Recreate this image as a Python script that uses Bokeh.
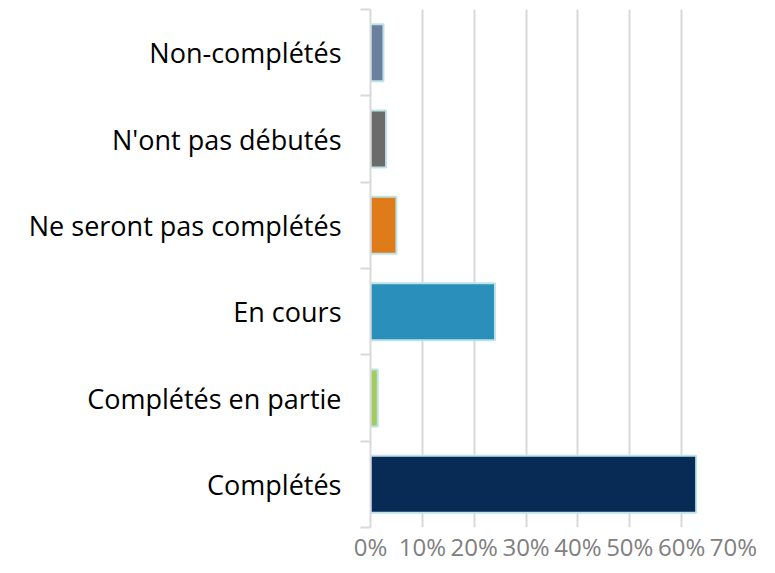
from bokeh.plotting import figure
from bokeh.models import FixedTicker, Range1d, CustomJSTickFormatter
from bokeh.embed import file_html
from bokeh.resources import INLINE

categories = ["Complétés", "Complétés en partie", "En cours",
              "Ne seront pas complétés", "N'ont pas débutés", "Non-complétés"]
values = [62.8, 1.4, 24.0, 5.0, 3.0, 2.5]
colors = ["#072B55", "#A3CC5A", "#2A8FBA", "#E07B1A", "#6B6B6B", "#6B7F9E"]
x_ticks = [0, 10, 20, 30, 40, 50, 60, 70]

pos = [i + 0.5 for i in range(len(categories))]
bounds = list(range(len(categories) + 1))

p = figure(width=759, height=565, output_backend="svg", toolbar_location=None,
           x_range=Range1d(0, 70), y_range=Range1d(0, len(categories)),
           min_border_left=370, min_border_right=26, min_border_top=9, min_border_bottom=0)
p.outline_line_color = None

p.hbar(y=pos, right=values, left=0, height=0.66, fill_color=colors,
       line_color="#BDE3E8", line_width=2)

p.xaxis.ticker = FixedTicker(ticks=x_ticks)
p.xaxis.formatter = CustomJSTickFormatter(code="return tick + '%';")
p.xaxis.axis_line_color = None
p.xaxis.major_tick_line_color = None
p.xaxis.minor_tick_line_color = None
p.xaxis.major_tick_out = 0
p.xaxis.major_tick_in = 0
p.xaxis.major_label_text_color = "#808080"
p.xaxis.major_label_text_font = "Open Sans"
p.xaxis.major_label_text_font_size = "24px"
p.xaxis.major_label_standoff = 2

p.yaxis.ticker = FixedTicker(ticks=pos, minor_ticks=bounds)
p.yaxis.major_label_overrides = {pp: c for pp, c in zip(pos, categories)}
p.yaxis.major_tick_line_color = None
p.yaxis.major_tick_out = 0
p.yaxis.major_tick_in = 0
p.yaxis.minor_tick_line_color = "#D9D9D9"
p.yaxis.minor_tick_line_width = 2
p.yaxis.minor_tick_out = 10
p.yaxis.minor_tick_in = 0
p.yaxis.axis_line_color = "#D9D9D9"
p.yaxis.axis_line_width = 2
p.yaxis.major_label_text_color = "#000000"
p.yaxis.major_label_text_font = "Open Sans"
p.yaxis.major_label_text_font_size = "27px"
p.yaxis.major_label_standoff = 19

p.xgrid.grid_line_color = "#D9D9D9"
p.xgrid.grid_line_width = 2
p.ygrid.grid_line_color = None

open("out.html", "w").write(file_html(p, INLINE))
